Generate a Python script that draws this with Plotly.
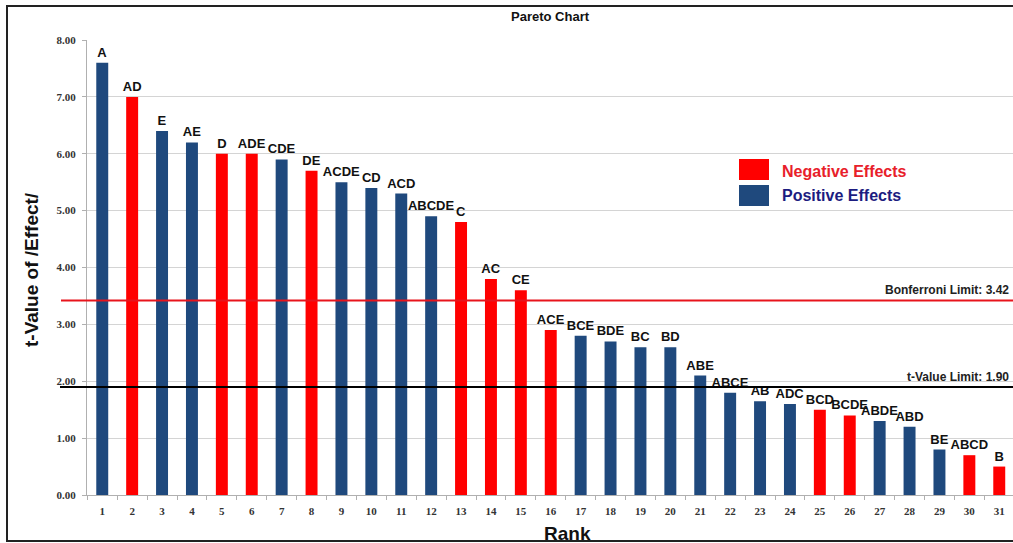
import plotly.graph_objects as go

# Effects ranked by |t-value|
ranks = [str(i) for i in range(1, 32)]
effects = ["A", "AD", "E", "AE", "D", "ADE", "CDE", "DE", "ACDE", "CD", "ACD",
           "ABCDE", "C", "AC", "CE", "ACE", "BCE", "BDE", "BC", "BD", "ABE",
           "ABCE", "AB", "ADC", "BCD", "BCDE", "ABDE", "ABD", "BE", "ABCD", "B"]
t_values = [7.6, 7.0, 6.4, 6.2, 6.0, 6.0, 5.9, 5.7, 5.5, 5.4, 5.3,
            4.9, 4.8, 3.8, 3.6, 2.9, 2.8, 2.7, 2.6, 2.6, 2.1,
            1.8, 1.65, 1.6, 1.5, 1.4, 1.3, 1.2, 0.8, 0.7, 0.5]
signs = ["+", "-", "+", "+", "-", "-", "+", "-", "+", "+", "+",
         "+", "-", "-", "-", "-", "+", "+", "+", "+", "+",
         "+", "+", "+", "-", "-", "+", "+", "+", "-", "-"]

bonferroni_limit = 3.42
t_value_limit = 1.90

RED = "#FF0000"
BLUE = "#1F497D"
bar_colors = [RED if s == "-" else BLUE for s in signs]

W, H = 1013, 543
ML, MR, MT, MB = 87, 0, 40, 48
PW, PH = W - ML - MR, H - MT - MB
SANS = "Liberation Sans, Arial"
SERIF = "Liberation Serif, Times New Roman"


def px_x(px):
    return (px - ML) / PW


def px_y(py):
    return (H - MB - py) / PH


fig = go.Figure()
fig.add_trace(go.Bar(
    x=ranks, y=t_values, text=effects,
    marker=dict(color=bar_colors, line=dict(width=0)),
    width=0.4,
    textposition="outside",
    constraintext="none",
    cliponaxis=False,
    textfont=dict(family=SANS, size=13, color="#111", weight="bold"),
    showlegend=False,
    hoverinfo="x+y+text",
))

shapes = [
    # outer frame
    dict(type="rect", xref="paper", yref="paper",
         x0=px_x(7), x1=px_x(1020), y0=px_y(541), y1=px_y(6),
         line=dict(color="#222", width=2), layer="above"),
    # limit lines
    dict(type="line", xref="paper", yref="y", x0=px_x(61), x1=1.0,
         y0=bonferroni_limit, y1=bonferroni_limit,
         line=dict(color="#E8141C", width=2)),
    dict(type="line", xref="paper", yref="y", x0=px_x(60), x1=1.0,
         y0=t_value_limit, y1=t_value_limit,
         line=dict(color="#000", width=2)),
    # key swatches
    dict(type="rect", xref="paper", yref="paper",
         x0=px_x(739), x1=px_x(769), y0=px_y(180), y1=px_y(159),
         fillcolor=RED, line=dict(width=0)),
    dict(type="rect", xref="paper", yref="paper",
         x0=px_x(739), x1=px_x(769), y0=px_y(206), y1=px_y(185),
         fillcolor=BLUE, line=dict(width=0)),
]

annotations = [
    dict(text="<b>Pareto Chart</b>", xref="paper", yref="paper",
         x=px_x(550), y=px_y(17), xanchor="center", yanchor="middle", showarrow=False,
         font=dict(family=SANS, size=13, color="#111")),
    dict(text="<b>Negative Effects</b>", xref="paper", yref="paper",
         x=px_x(780), y=px_y(171), xanchor="left", yanchor="middle", showarrow=False,
         font=dict(family=SANS, size=16, color="#E8202A")),
    dict(text="<b>Positive Effects</b>", xref="paper", yref="paper",
         x=px_x(780), y=px_y(195), xanchor="left", yanchor="middle", showarrow=False,
         font=dict(family=SANS, size=16, color="#1C1C80")),
    dict(text=f"<b>Bonferroni Limit: {bonferroni_limit:.2f}</b>", xref="paper", yref="y",
         x=px_x(1011), y=bonferroni_limit, xanchor="right", yanchor="bottom",
         showarrow=False, yshift=1,
         font=dict(family=SANS, size=12, color="#222")),
    dict(text=f"<b>t-Value Limit: {t_value_limit:.2f}</b>", xref="paper", yref="y",
         x=px_x(1011), y=t_value_limit, xanchor="right", yanchor="bottom",
         showarrow=False, yshift=1,
         font=dict(family=SANS, size=12, color="#222")),
    dict(text="<b>Rank</b>", xref="paper", yref="paper",
         x=px_x(567), y=px_y(533), xanchor="center", yanchor="middle", showarrow=False,
         font=dict(family=SANS, size=19, color="#111")),
    dict(text="<b>t-Value of /Effect/</b>", xref="paper", yref="paper",
         x=px_x(31), y=px_y(270), xanchor="center", yanchor="middle",
         showarrow=False, textangle=-90,
         font=dict(family=SANS, size=19, color="#111")),
]

fig.update_layout(
    width=W, height=H,
    margin=dict(l=ML, r=MR, t=MT, b=MB),
    paper_bgcolor="white", plot_bgcolor="white",
    shapes=shapes, annotations=annotations,
    xaxis=dict(
        type="category", range=[-0.51, 30.46],
        showgrid=False, showline=True, linecolor="#b0b0b0", linewidth=1,
        ticks="outside", tickson="boundaries", ticklen=4, tickcolor="#b0b0b0",
        ticklabelstandoff=6,
        tickfont=dict(family=SERIF, size=11, color="#333", weight="bold"),
        fixedrange=True,
    ),
    yaxis=dict(
        range=[0, 8], dtick=1, tickformat=".2f",
        showgrid=True, gridcolor="#d4d4d4", gridwidth=1,
        zeroline=False, showline=True, linecolor="#b0b0b0", linewidth=1,
        ticks="outside", ticklen=4, tickcolor="#b0b0b0",
        ticklabelstandoff=4,
        tickfont=dict(family=SERIF, size=11, color="#333", weight="bold"),
        fixedrange=True,
    ),
)

fig.write_html("out.html")
